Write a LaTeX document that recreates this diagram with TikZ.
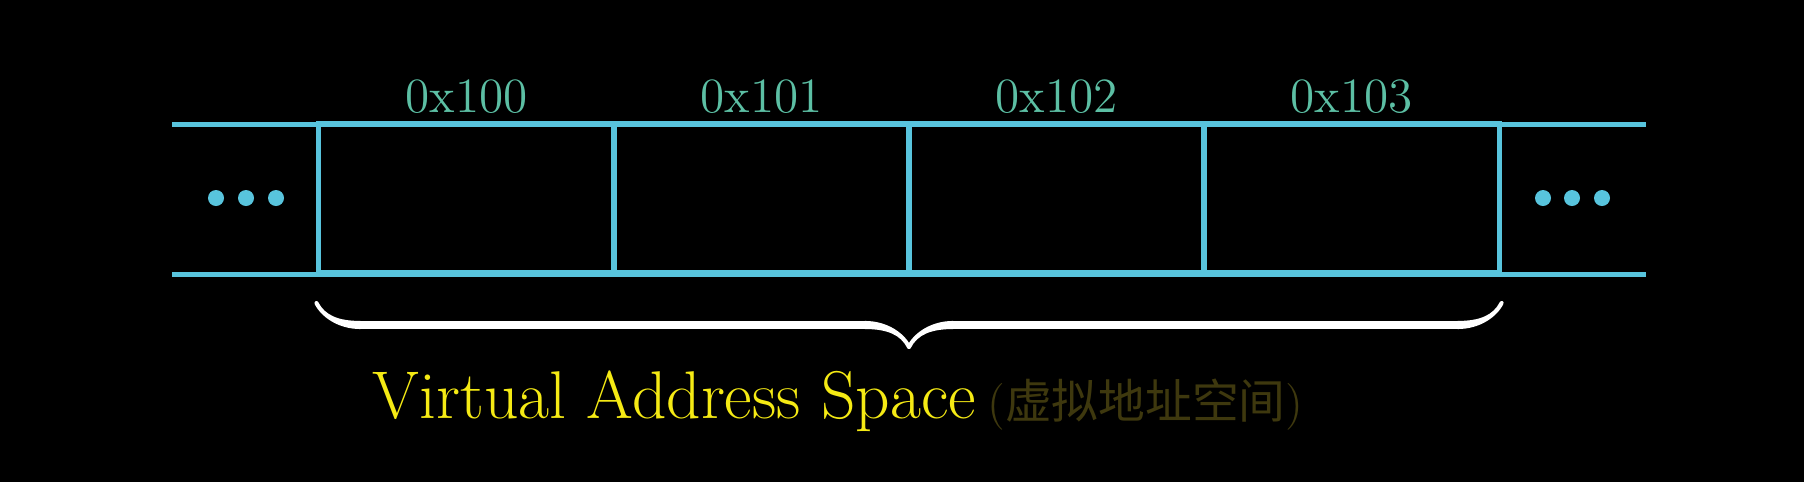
\documentclass[tikz,border=0pt]{standalone}
\usepackage{fontspec}
\newfontfamily\cjk{Noto Sans CJK SC}
\usetikzlibrary{positioning}
\usetikzlibrary{decorations.pathreplacing, calligraphy}
\definecolor{memblue}{HTML}{58C4DD}
\definecolor{addrteal}{HTML}{5CBFA4}
\definecolor{vyellow}{HTML}{F5EA14}
\definecolor{cndim}{RGB}{62,56,14}
\tikzstyle{cell} = [rectangle, draw=memblue, line width=0.05cm, minimum width=2.95cm, minimum height=1.48cm, inner sep=0pt]
\tikzstyle{rail} = [draw=memblue, line width=0.05cm]
\tikzstyle{dot} = [circle, fill=memblue, minimum size=0.16cm, inner sep=0pt]
\tikzstyle{addr} = [text=addrteal, font=\fontsize{14}{16}\selectfont, inner sep=0pt, anchor=base]
\tikzstyle{title} = [font=\fontsize{19.2}{21}\selectfont, inner sep=0pt, anchor=base west]

\begin{document}
\begin{tikzpicture}[x=0.01cm, y=-0.01cm]

    % page border
    \useasboundingbox (0,0) rectangle (1804,481);
    \fill [black] (-10,-10) rectangle (1814,491);

    % the four memory cells and their addresses
    \foreach \i in {0,...,3} {
        \node (c\i) [cell] at (466.5+295*\i, 198) {};
        \path (c\i.north) ++(0,-9) node (a\i) [addr] {0x10\i};
    }

    \coordinate (leftend) at (172,124);
    \coordinate (rightend) at (1646,124);
    \draw [rail] (leftend) -- (rightend);
    \draw [rail] (leftend |- c0.south) -- (rightend |- c0.south);

    % dots on both sides
    \foreach \x in {216,246,276,1543,1572,1602}
        \node [dot] at (\x,198) {};

    % brace under the cells
    \coordinate (bracel) at (c0.south west |- 0,303);
    \coordinate (bracer) at (c3.south east |- 0,303);
    \draw [decorate, decoration={calligraphic brace, amplitude=12.5pt}, pen colour=white, line width=2.3pt] (bracer) -- (bracel);

    \node (vas) [title] at (372,418) {\color{vyellow}Virtual Address Space\,{\fontsize{13.3}{15}\selectfont\color{cndim}(\cjk 虚拟地址空间\rmfamily)}};

\end{tikzpicture}
\end{document}
